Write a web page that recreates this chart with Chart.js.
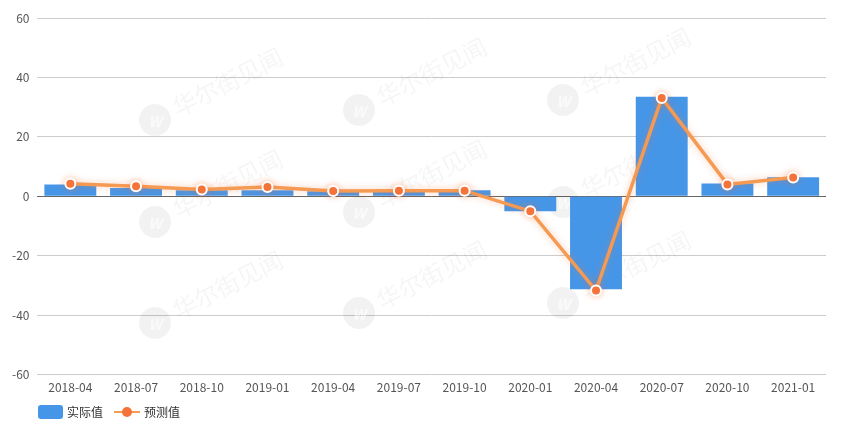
<!DOCTYPE html>
<html>
<head>
<meta charset="utf-8">
<script src="https://cdn.jsdelivr.net/npm/chart.js@4"></script>
<style>
  html, body { margin: 0; padding: 0; background: #fff; }
  .wrap { width: 842px; height: 428px; }
</style>
</head>
<body>
<div class="wrap"><canvas id="chart" width="842" height="428"></canvas></div>
<script>
const labels = ["2018-04", "2018-07", "2018-10", "2019-01", "2019-04", "2019-07",
  "2019-10", "2020-01", "2020-04", "2020-07", "2020-10", "2021-01"];
const actual = [4.0, 2.8, 2.0, 2.0, 1.7, 1.7, 2.0, -5.0, -31.3, 33.5, 4.3, 6.4];
const forecast = [4.2, 3.4, 2.3, 3.1, 1.8, 1.9, 1.9, -5.0, -31.7, 33.1, 4.0, 6.3];
const seriesNames = ["实际值", "预测值"];

const FONT = "'Microsoft YaHei', 'Noto Sans CJK SC', 'Noto Sans', sans-serif";
const barColor = "#4696e8";
const lineColor = "#f59a53";
const pointColor = "#f5733a";

// faint watermark behind the plot (rows slope upward to the right)
const watermark = {
  id: "watermark",
  beforeDatasetsDraw(chart) {
    const ctx = chart.ctx;
    const cols = [155, 359, 563];
    cols.forEach((x, i) => {
      [120, 222, 323].forEach((y0) => {
        const y = y0 - i * 10;
        ctx.save();
        ctx.translate(x, y);
        ctx.fillStyle = "rgba(0,0,0,0.05)";
        ctx.beginPath();
        ctx.arc(0, 0, 16, 0, Math.PI * 2);
        ctx.fill();
        ctx.fillStyle = "rgba(255,255,255,0.6)";
        ctx.font = "italic bold 15px " + FONT;
        ctx.textAlign = "center";
        ctx.textBaseline = "middle";
        ctx.fillText("W", 0, 1);
        ctx.rotate(-0.47);
        ctx.textAlign = "left";
        ctx.textBaseline = "alphabetic";
        ctx.fillStyle = "rgba(0,0,0,0.04)";
        ctx.font = "24px " + FONT;
        ctx.fillText("华尔街见闻", 22, 8);
        ctx.restore();
      });
    });
  },
};

// legend drawn by hand: rounded box for bars, line + dot for the forecast
const bottomLegend = {
  id: "bottomLegend",
  afterDraw(chart) {
    const ctx = chart.ctx;
    const y = 412;
    ctx.save();
    ctx.fillStyle = barColor;
    ctx.beginPath();
    ctx.roundRect(38, y - 7, 25, 14, 3);
    ctx.fill();
    ctx.font = "12px " + FONT;
    ctx.fillStyle = "#333";
    ctx.textBaseline = "middle";
    ctx.fillText(seriesNames[0], 67, y);

    ctx.strokeStyle = lineColor;
    ctx.lineWidth = 2;
    ctx.beginPath();
    ctx.moveTo(114, y);
    ctx.lineTo(140, y);
    ctx.stroke();
    ctx.fillStyle = pointColor;
    ctx.beginPath();
    ctx.arc(127, y, 5, 0, Math.PI * 2);
    ctx.fill();
    ctx.fillStyle = "#333";
    ctx.fillText(seriesNames[1], 144, y);
    ctx.restore();
  },
};

// soft glow round the forecast points
const glow = {
  id: "glow",
  beforeDatasetDraw(chart, args) {
    if (args.index === 1) {
      chart.ctx.save();
      chart.ctx.shadowColor = "rgba(245,120,60,0.4)";
      chart.ctx.shadowBlur = 7;
    }
  },
  afterDatasetDraw(chart, args) {
    if (args.index === 1) chart.ctx.restore();
  },
};

new Chart(document.getElementById("chart"), {
  type: "bar",
  data: {
    labels: labels,
    datasets: [
      {
        type: "bar",
        label: seriesNames[0],
        data: actual,
        backgroundColor: barColor,
        categoryPercentage: 1,
        barPercentage: 0.79,
        order: 2,
      },
      {
        type: "line",
        label: seriesNames[1],
        data: forecast,
        borderColor: lineColor,
        borderWidth: 3.5,
        tension: 0,
        pointRadius: 5,
        pointBackgroundColor: pointColor,
        pointBorderColor: "#fff",
        pointBorderWidth: 2,
        order: 1,
      },
    ],
  },
  options: {
    responsive: false,
    animation: false,
    layout: { padding: { left: 4, right: 16, top: 18, bottom: 27 } },
    plugins: {
      legend: { display: false },
      tooltip: { enabled: false },
    },
    scales: {
      x: {
        grid: { display: false, drawTicks: false },
        border: { display: false },
        ticks: { color: "#555", font: { size: 12, family: FONT }, padding: 6, maxRotation: 0 },
      },
      y: {
        min: -60,
        max: 60,
        ticks: { stepSize: 20, color: "#555", font: { size: 12, family: FONT }, padding: 8 },
        border: { display: false },
        grid: {
          drawTicks: false,
          color: (c) => (c.tick && c.tick.value === 0 ? "#666" : "#ccc"),
          lineWidth: 1,
        },
      },
    },
  },
  plugins: [watermark, glow, bottomLegend],
});
</script>
</body>
</html>
